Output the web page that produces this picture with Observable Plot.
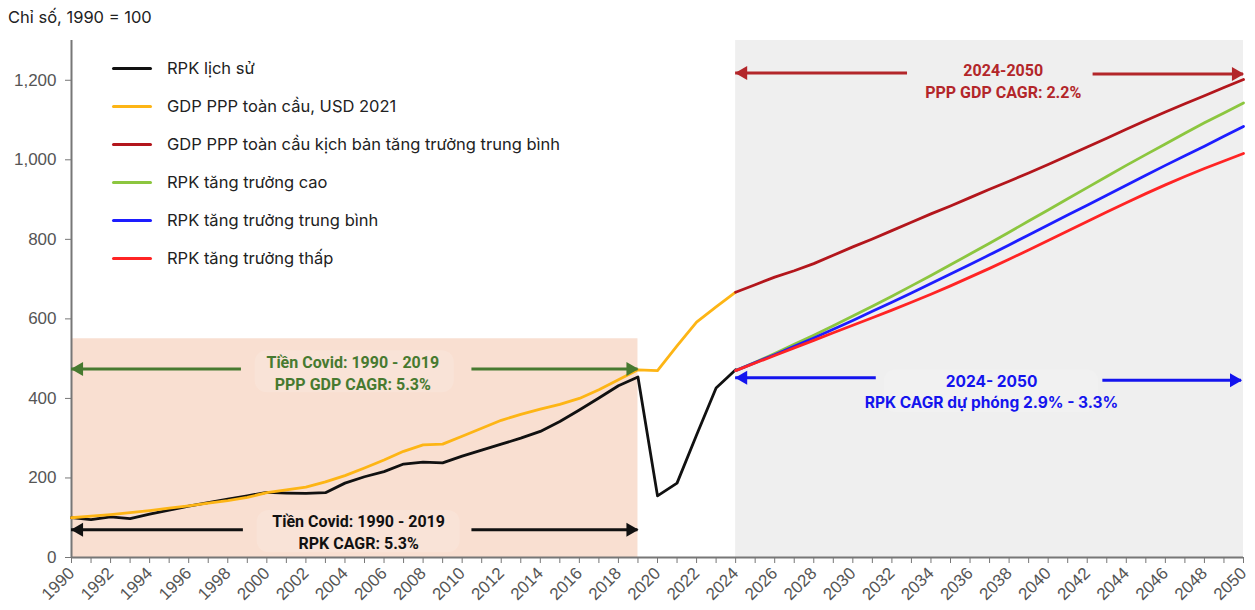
<!DOCTYPE html>
<html>
<head>
<meta charset="utf-8">
<script src="https://cdn.jsdelivr.net/npm/d3@7"></script>
<script src="https://cdn.jsdelivr.net/npm/@observablehq/plot@0.6"></script>
<style>
  body { margin: 0; background: #fff; font-family: Inter, "Noto Sans", sans-serif; }
  #wrap { position: relative; width: 1255px; height: 610px; overflow: hidden; }
  #title { position: absolute; left: 8px; top: 7px; font-size: 16.5px; color: #222; }
  #legend { position: absolute; left: 112px; top: 49px; }
  .row { display: flex; align-items: center; height: 38px; font-size: 16.5px; color: #222; white-space: nowrap; }
  .sw { width: 40px; height: 3px; margin-right: 15px; border-radius: 1.5px; }
  #chart svg g[aria-label="y-axis tick label"] { font-size: 17px !important; }
  #chart svg g[aria-label="x-axis tick label"] { font-size: 17px !important; }
</style>
</head>
<body>
<div id="wrap">
  <div id="chart"></div>
  <div id="title">Chỉ số, 1990 = 100</div>
  <div id="legend"></div>
</div>
<script>
// Years
const yearsHist = d3.range(1990, 2025);   // 1990 … 2024
const yearsProj = d3.range(2024, 2051);   // 2024 … 2050

// Index values, 1990 = 100
const rpkHist = [100, 95, 102, 98, 109, 119, 129, 138, 147, 155,
                 164, 162, 161, 163, 187, 203, 216, 235, 240, 238,
                 255, 270, 285, 300, 317, 342, 371, 401, 432, 454,
                 155, 187, 308, 426, 472];
const gdpHist = [100, 104, 108, 113, 118, 124, 130, 137, 143, 151,
                 163, 170, 177, 190, 206, 225, 245, 267, 283, 285,
                 305, 325, 345, 360, 373, 385, 400, 422, 447, 472,
                 470, 532, 592, 630, 667];
const gdpProj = [667, 686, 705, 721, 739, 760, 781, 801, 822, 843,
                 864, 884, 905, 926, 946, 967, 988, 1010, 1032, 1054,
                 1077, 1099, 1120, 1141, 1161, 1182, 1202];
const rpkHigh = [470, 491, 513, 536, 559, 583, 607, 632, 657, 683,
                 709, 736, 763, 790, 818, 846, 874, 902, 930, 958,
                 986, 1013, 1040, 1067, 1093, 1118, 1143];
const rpkMid  = [470, 490, 510, 531, 552, 574, 596, 619, 642, 665,
                 689, 713, 737, 761, 786, 811, 836, 861, 886, 911,
                 936, 961, 986, 1010, 1034, 1059, 1084];
const rpkLow  = [470, 489, 508, 527, 546, 565, 584, 603, 622, 642,
                 662, 683, 705, 727, 750, 773, 797, 821, 845, 869,
                 892, 915, 937, 958, 978, 997, 1016];

const seriesNames = [
  "RPK lịch sử",
  "GDP PPP toàn cầu, USD 2021",
  "GDP PPP toàn cầu kịch bản tăng trưởng trung bình",
  "RPK tăng trưởng cao",
  "RPK tăng trưởng trung bình",
  "RPK tăng trưởng thấp"
];
const seriesColors = ["#111111", "#fdb515", "#b3161c", "#8cc63f", "#1d1dff", "#ff2424"];
const seriesYears = [yearsHist, yearsHist, yearsProj, yearsProj, yearsProj, yearsProj];
const seriesValues = [rpkHist, gdpHist, gdpProj, rpkHigh, rpkMid, rpkLow];

// Periods
const preCovid = [1990, 2019];
const preCovidShadeTop = 550;
const forecast = [2024, 2050];

const yTicks = [0, 200, 400, 600, 800, 1000, 1200];

const rows = seriesNames.flatMap((name, k) =>
  seriesYears[k].map((year, i) => ({name, year, value: seriesValues[k][i]})));

// Drawing order: projections first, history on top
const drawOrder = [5, 4, 3, 2, 1, 0].map(k => seriesNames[k]);

// Period annotations: text block plus a double-headed arrow broken around the text
const condensed = "Roboto, 'Liberation Sans', sans-serif";
const annotations = [
  {text: "Tiền Covid: 1990 - 2019\nPPP GDP CAGR: 5.3%", color: "#477a30", tx: 2004.4, ty: 466, font: condensed, size: 16,
   seg: [[1990, 1998.7, 474], [2010.5, 2019, 474]], box: [1999.4, 2009.6, 414, 520]},
  {text: "Tiền Covid: 1990 - 2019\nRPK CAGR: 5.3%", color: "#111111", tx: 2004.7, ty: 66, font: condensed, size: 16,
   seg: [[1990, 1998.8, 70], [2010.5, 2019, 70]], box: [1999.5, 2009.9, 12, 118]},
  {text: "2024-2050\nPPP GDP CAGR: 2.2%", color: "#b3262a", tx: 2037.7, ty: 1201, font: condensed, size: 16,
   seg: [[2024, 2032.8, 1218], [2042.3, 2050, 1216]], box: null},
  {text: "2024- 2050\nRPK CAGR dự phóng 2.9% - 3.3%", color: "#1414ee", tx: 2037.1, ty: 419, font: "Inter, Roboto, sans-serif", size: 15.5,
   seg: [[2024, 2031.2, 452], [2042.8, 2049.9, 446]], box: [2031.6, 2042.6, 364, 472]}
];
const segs = annotations.flatMap(a => a.seg.map(([x1, x2, y]) => ({x1, x2, y, color: a.color})));
const heads = annotations.flatMap(a => [
  {x: a.seg[0][0], y: a.seg[0][2], color: a.color, dir: -1},
  {x: a.seg[1][1], y: a.seg[1][2], color: a.color, dir: 1}
]);
const boxes = annotations.filter(a => a.box).map(a => ({x1: a.box[0], x2: a.box[1], y1: a.box[2], y2: a.box[3]}));

const chart = Plot.plot({
  width: 1255,
  height: 610,
  marginLeft: 71,
  marginRight: 12,
  marginTop: 40,
  marginBottom: 53,
  x: {domain: [1990, 2050]},
  y: {domain: [0, 1300]},
  color: {domain: seriesNames, range: seriesColors},
  style: {fontFamily: "'Liberation Sans', Arial, sans-serif", color: "#555", background: "transparent"},
  marks: [
    // shaded periods
    Plot.rect([0], {x1: forecast[0], x2: forecast[1], y1: 0, y2: 1300, fill: "#efefef"}),
    Plot.rect([0], {x1: preCovid[0], x2: preCovid[1], y1: 0, y2: preCovidShadeTop, fill: "#f9dfd1"}),
    // soft boxes behind annotation text
    Plot.rect(boxes, {x1: "x1", x2: "x2", y1: "y1", y2: "y2", fill: "#ffffff", fillOpacity: 0.13, rx: 12}),
    // axes
    Plot.axisY({ticks: yTicks, tickSize: 6, tickPadding: 9, fontSize: 17, label: null, stroke: "#777", fill: "#555"}),
    Plot.axisX({ticks: d3.range(1990, 2051), tickSize: 6, tickFormat: () => "", label: null, stroke: "#777"}),
    Plot.axisX({ticks: d3.range(1990, 2051, 2), tickSize: 0, tickPadding: 13, tickRotate: -45,
                tickFormat: d => String(d), fontSize: 17, label: null, fill: "#555"}),
    Plot.ruleX([1990], {y1: 0, y2: 1300, stroke: "#777", strokeWidth: 2}),
    Plot.ruleY([0], {x1: 1990, x2: 2050, stroke: "#777", strokeWidth: 2}),
    // series
    Plot.line(rows, {x: "year", y: "value", z: "name", stroke: "name", strokeWidth: 2.8,
                     strokeLinejoin: "round", sort: {z: (a, b) => drawOrder.indexOf(a) - drawOrder.indexOf(b)}}),
    // annotation arrows
    Plot.ruleY(segs, {x1: "x1", x2: "x2", y: "y", stroke: "color", strokeWidth: 3}),
    Plot.dot(heads.filter(h => h.dir > 0), {x: "x", y: "y", fill: "color", symbol: "triangle", r: 5.2, rotate: 90, dx: -7.5, stroke: null}),
    Plot.dot(heads.filter(h => h.dir < 0), {x: "x", y: "y", fill: "color", symbol: "triangle", r: 5.2, rotate: -90, dx: 7.5, stroke: null}),
    ...annotations.map(a => Plot.text([a], {x: "tx", y: "ty", text: "text", fill: "color", fontWeight: "bold",
                            fontSize: a.size, lineHeight: 1.35, fontFamily: a.font}))
  ]
});
document.getElementById("chart").appendChild(chart);

// legend
const legend = d3.select("#legend");
seriesNames.forEach((name, k) => {
  const row = legend.append("div").attr("class", "row");
  row.append("span").attr("class", "sw").style("background", seriesColors[k]);
  row.append("span").text(name);
});
</script>
</body>
</html>
